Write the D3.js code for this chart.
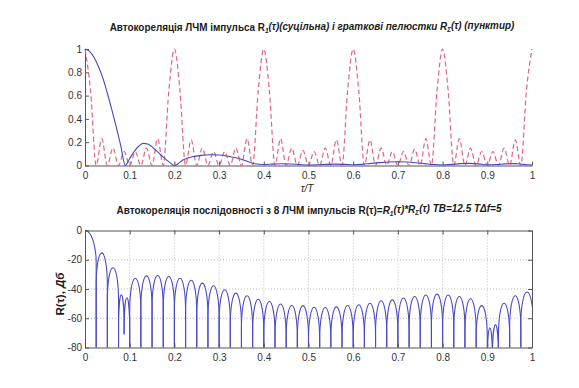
<!DOCTYPE html>
<html>
<head>
<meta charset="utf-8">
<script src="https://cdn.jsdelivr.net/npm/d3@7"></script>
<style>
  body { margin: 0; background: #fff; }
  svg { display: block; }
  text { font-family: "Liberation Sans Narrow", "Arial Narrow", "Liberation Sans", Arial, sans-serif; }
</style>
</head>
<body>
<svg id="chart" width="579" height="388"></svg>
<script>
// --- top plot: R1 (solid) and grating lobes R_Sigma (dashed)
const r1Tau = [0, 0.01, 0.02, 0.03, 0.04, 0.05, 0.06, 0.07, 0.08, 0.09,
  0.1, 0.11, 0.12, 0.13, 0.14, 0.15, 0.16, 0.17, 0.18, 0.19, 0.2,
  0.22, 0.24, 0.26, 0.28, 0.3, 0.32, 0.34, 0.36, 0.38, 0.4,
  0.42, 0.44, 0.46, 0.48, 0.5, 0.52, 0.54, 0.56, 0.58, 0.6,
  0.62, 0.64, 0.66, 0.68, 0.7, 0.72, 0.74, 0.76, 0.78, 0.8,
  0.82, 0.84, 0.86, 0.88, 0.9, 0.92, 0.94, 0.96, 0.98, 1];
const r1Val = [1, 0.98, 0.93, 0.85, 0.75, 0.62, 0.48, 0.33, 0.17, 0.0,
  0.06, 0.12, 0.165, 0.19, 0.185, 0.16, 0.125, 0.09, 0.055, 0.025, 0.0,
  0.05, 0.075, 0.087, 0.092, 0.09, 0.08, 0.064, 0.04, 0.015, 0.008,
  0.012, 0.015, 0.013, 0.008, 0.004, 0.006, 0.01, 0.012, 0.01, 0.006,
  0.01, 0.018, 0.025, 0.03, 0.032, 0.03, 0.024, 0.016, 0.008, 0.004,
  0.01, 0.016, 0.018, 0.014, 0.006, 0.008, 0.014, 0.016, 0.01, 0.004];

// R_Sigma sampled every 0.0125 of tau/T
const r2Step = 0.0125;
const r2Val = [
  1, 0.64, 0, 0.23, 0, 0.15, 0, 0.12, 0, 0.12, 0, 0.15, 0, 0.23, 0, 0.64,
  1, 0.64, 0, 0.22, 0, 0.15, 0, 0.12, 0, 0.12, 0, 0.15, 0, 0.23, 0, 0.64,
  1, 0.64, 0, 0.23, 0, 0.15, 0, 0.13, 0, 0.12, 0, 0.15, 0, 0.22, 0, 0.64,
  1, 0.64, 0, 0.22, 0, 0.15, 0, 0.12, 0, 0.12, 0, 0.14, 0, 0.23, 0, 0.64,
  1, 0.64, 0, 0.23, 0, 0.15, 0, 0.12, 0, 0.12, 0, 0.15, 0, 0.22, 0, 0.64,
  1];

const xTicks = [0, 0.1, 0.2, 0.3, 0.4, 0.5, 0.6, 0.7, 0.8, 0.9, 1];
const yTicksTop = [0, 0.2, 0.4, 0.6, 0.8, 1];
const yTicksBot = [0, -20, -40, -60, -80];

// --- bottom plot: R(tau) in dB, one arch per lobe between nulls
const lobeNulls = [-0.025, 0.025, 0.05, 0.075, 0.0875, 0.1,
  0.125, 0.15, 0.175, 0.2, 0.225, 0.25, 0.275, 0.3, 0.325, 0.35, 0.375, 0.4,
  0.425, 0.45, 0.475, 0.5, 0.525, 0.55, 0.575, 0.6, 0.625, 0.65, 0.675, 0.7,
  0.725, 0.75, 0.775, 0.8, 0.825, 0.85, 0.875, 0.9,
  0.9115, 0.925, 0.95, 0.975, 1.003];
const nullDb = [-90, -90, -90, -90, -71, -90,
  -90, -90, -90, -90, -90, -90, -90, -90, -90, -90, -90, -90,
  -90, -90, -90, -90, -90, -90, -90, -90, -90, -90, -90, -90,
  -90, -90, -90, -90, -90, -90, -90, -90,
  -90, -90, -90, -90, -90];
const lobePeakDb = [0, -15.3, -25.5, -44, -46,
  -32.6, -31, -30.8, -31.4, -32.6, -34, -36, -37.8, -40.5, -42.8, -44.6, -47,
  -48.5, -50.3, -51.3, -51.3, -52.4, -52.6, -52.2, -51.3, -50.8, -49.7, -48, -47.4,
  -46.2, -45.1, -44, -43.5, -44, -45.1, -46.7, -51.3,
  -66.7, -64.5, -49.7, -44.6, -42.1];

const svg = d3.select("#chart");

const x = d3.scaleLinear().domain([0, 1]).range([85, 532]);
const yTop = d3.scaleLinear().domain([0, 1]).range([165.5, 49]);
const yBot = d3.scaleLinear().domain([-80, 0]).range([347.5, 230.5]);

const fmt = d => String(d);

function styleAxis(g) {
  g.select(".domain").attr("stroke", "#555");
  g.selectAll(".tick line").attr("stroke", "#555");
  g.selectAll(".tick text").attr("fill", "#333").attr("font-size", 10);
}

// top plot axes (no box)
svg.append("g")
  .attr("transform", "translate(0," + yTop(0) + ")")
  .call(d3.axisBottom(x).tickValues(xTicks).tickFormat(fmt).tickSize(-4).tickSizeOuter(0).tickPadding(6))
  .call(styleAxis);
svg.append("g")
  .attr("transform", "translate(" + x(0) + ",0)")
  .call(d3.axisLeft(yTop).tickValues(yTicksTop).tickFormat(fmt).tickSize(-4).tickSizeOuter(0).tickPadding(3))
  .call(styleAxis);

const r2Data = r2Val.map((v, i) => [i * r2Step, v]);
const lineTop = d3.line().x(d => x(d[0])).y(d => yTop(d[1])).curve(d3.curveMonotoneX);

svg.append("path")
  .datum(r2Data)
  .attr("fill", "none")
  .attr("stroke", "#e06684")
  .attr("stroke-width", 1.2)
  .attr("stroke-dasharray", "5,3")
  .attr("d", lineTop);

svg.append("path")
  .datum(r1Tau.map((t, i) => [t, r1Val[i]]))
  .attr("fill", "none")
  .attr("stroke", "#4646c0")
  .attr("stroke-width", 1.1)
  .attr("d", lineTop);

// titles: subscripts as shifted tspans, squeezed horizontally to the target width
function sub(t, s) {
  t.append("tspan").attr("dy", "0.28em").attr("font-size", "0.65em").attr("font-style", "italic").text(s);
}
function squeeze(t, cx, y, width) {
  const len = t.node().getComputedTextLength();
  t.attr("transform", "translate(" + cx + "," + y + ") scale(" + Math.min(1, width / len) + ",1)");
}
const t1 = svg.append("text")
  .attr("text-anchor", "middle")
  .attr("font-size", 11).attr("font-weight", "bold").attr("fill", "#1a1a1a");
t1.append("tspan").text("Автокореляція ЛЧМ імпульса R");
sub(t1, "1");
t1.append("tspan").attr("dy", "-0.28em").attr("font-style", "italic").text("(τ)(суцільна) і граткові пелюстки R");
sub(t1, "Σ");
t1.append("tspan").attr("dy", "-0.28em").attr("font-style", "italic").text("(τ) (пунктир)");
squeeze(t1, 312, 31, 405);

svg.append("text")
  .attr("x", 307).attr("y", 192)
  .attr("text-anchor", "middle")
  .attr("font-size", 10).attr("font-style", "italic").attr("fill", "#222")
  .text("τ/T");

const t2 = svg.append("text")
  .attr("text-anchor", "middle")
  .attr("font-size", 11).attr("font-weight", "bold").attr("fill", "#1a1a1a");
t2.append("tspan").text("Автокореляція послідовності з 8 ЛЧМ імпульсів R(τ)=");
t2.append("tspan").attr("font-style", "italic").text("R");
sub(t2, "1");
t2.append("tspan").attr("dy", "-0.28em").attr("font-style", "italic").text("(τ)*R");
sub(t2, "Σ");
t2.append("tspan").attr("dy", "-0.28em").attr("font-style", "italic").text("(τ) TB=12.5 TΔf=5");
squeeze(t2, 309, 214, 385);

// bottom plot: grid
const grid = svg.append("g").attr("stroke", "#aaa").attr("stroke-dasharray", "1,2").attr("stroke-width", 0.8);
grid.selectAll("line.gx").data(xTicks.slice(1, -1)).join("line")
  .attr("x1", d => x(d)).attr("x2", d => x(d))
  .attr("y1", yBot(0)).attr("y2", yBot(-80));
grid.selectAll("line.gy").data(yTicksBot.slice(1, -1)).join("line")
  .attr("x1", x(0)).attr("x2", x(1))
  .attr("y1", d => yBot(d)).attr("y2", d => yBot(d));

svg.append("defs").append("clipPath").attr("id", "botClip")
  .append("rect")
  .attr("x", x(0)).attr("y", yBot(0) - 1)
  .attr("width", x(1) - x(0)).attr("height", yBot(-80) - yBot(0) + 1);

// each lobe: vertical edge from null, elliptical arch over the peak
const archDb = 22;
const lobes = lobePeakDb.map((pk, i) => {
  const x0 = x(lobeNulls[i]), x1 = x(lobeNulls[i + 1]);
  const yb = yBot(pk - archDb), yp = yBot(pk);
  return "M" + x0 + "," + yBot(nullDb[i]) +
    "L" + x0 + "," + yb +
    "A" + ((x1 - x0) / 2) + "," + (yb - yp) + " 0 0 1 " + x1 + "," + yb +
    "L" + x1 + "," + yBot(nullDb[i + 1]);
});

svg.append("g").attr("clip-path", "url(#botClip)")
  .selectAll("path").data(lobes).join("path")
  .attr("fill", "none")
  .attr("stroke", "#4a4ac4")
  .attr("stroke-width", 1.1)
  .attr("d", d => d);

// bottom plot axes with box
svg.append("g")
  .attr("transform", "translate(0," + yBot(-80) + ")")
  .call(d3.axisBottom(x).tickValues(xTicks).tickFormat(fmt).tickSize(-4).tickSizeOuter(0).tickPadding(6))
  .call(styleAxis);
svg.append("g")
  .attr("transform", "translate(0," + yBot(0) + ")")
  .call(d3.axisTop(x).tickValues(xTicks).tickFormat("").tickSize(-4).tickSizeOuter(0))
  .call(styleAxis);
svg.append("g")
  .attr("transform", "translate(" + x(0) + ",0)")
  .call(d3.axisLeft(yBot).tickValues(yTicksBot).tickFormat(fmt).tickSize(-4).tickSizeOuter(0).tickPadding(3))
  .call(styleAxis);
svg.append("g")
  .attr("transform", "translate(" + x(1) + ",0)")
  .call(d3.axisRight(yBot).tickValues(yTicksBot).tickFormat("").tickSize(-4).tickSizeOuter(0))
  .call(styleAxis);

svg.append("text")
  .attr("transform", "translate(64,294) rotate(-90)")
  .attr("text-anchor", "middle")
  .attr("font-size", 11.5).attr("font-weight", "bold").attr("fill", "#1a1a1a")
  .text("R(τ), ")
  .append("tspan").attr("font-style", "italic").text("Дб");
</script>
</body>
</html>
